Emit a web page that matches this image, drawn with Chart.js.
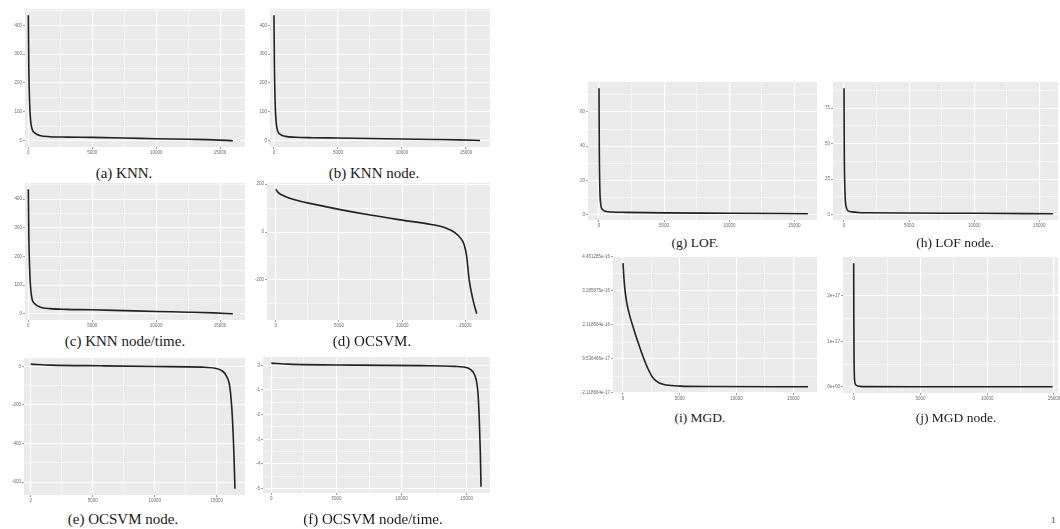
<!DOCTYPE html>
<html>
<head>
<meta charset="utf-8">
<script src="https://cdn.jsdelivr.net/npm/chart.js@4.4.1/dist/chart.umd.min.js"></script>
<style>
  body { margin: 0; background: #fff; width: 1060px; height: 529px; position: relative; overflow: hidden; }
  canvas { position: absolute; }
  .cap { position: absolute; font-family: "Liberation Serif", serif; line-height: 1; white-space: nowrap;
         transform: translate(-50%, -50%); color: #1a1a1a; }
  .pg { position: absolute; font-family: "Liberation Serif", serif; font-size: 9px; color: #333; }
</style>
</head>
<body>
<script>
// shared x axis ticks (row index)
const xTicks = [0, 5000, 10000, 15000];
const xLabels = ["0", "5000", "10000", "15000"];

// (a) KNN
const knnX = [0, 40, 100, 180, 300, 500, 900, 1700, 3000, 5000, 7500, 10000, 12500, 14500, 16000];
const knnY = [435, 250, 130, 70, 40, 27, 18, 14, 12.5, 11.5, 9.5, 7, 5, 3, 0];
// (b) KNN node
const knnNodeX = [0, 40, 100, 180, 300, 500, 900, 1700, 3000, 5000, 7500, 10000, 12500, 14500, 16100];
const knnNodeY = [435, 240, 120, 60, 33, 22, 15, 12, 10.5, 9.4, 7.8, 6, 4.5, 3, 1];
// (c) KNN node/time
const knnTimeX = [0, 40, 100, 180, 300, 500, 900, 1700, 3000, 5000, 7500, 10000, 12500, 14500, 16000];
const knnTimeY = [435, 270, 160, 90, 50, 35, 24, 18, 15.5, 14, 11, 8, 5.5, 3, 0];
const knnTicks = [0, 100, 200, 300, 400];
const knnLabels = ["0", "100", "200", "300", "400"];

// (d) OCSVM
const ocsvmX = [0, 200, 700, 1500, 2500, 5000, 7600, 10000, 12300, 13400, 14200, 14600, 14900, 15100, 15300, 15600, 15900];
const ocsvmY = [179, 165, 150, 135, 122, 95, 70, 50, 32, 18, -3, -24, -52, -100, -198, -282, -341];
const ocsvmTicks = [-200, 0, 200];
const ocsvmLabels = ["-200", "0", "200"];

// (e) OCSVM node
const ocsvmNodeX = [0, 1620, 5670, 10000, 13800, 14850, 15400, 15800, 16070, 16250, 16390, 16470];
const ocsvmNodeY = [12, 7, 3.5, 0, -3.5, -9, -21, -52, -113, -252, -461, -635];
const ocsvmNodeTicks = [-600, -400, -200, 0];
const ocsvmNodeLabels = ["-600", "-400", "-200", "0"];

// (f) OCSVM node/time
const ocsvmTimeX = [0, 1280, 6400, 11520, 14080, 15100, 15490, 15740, 15870, 15970, 16050, 16100];
const ocsvmTimeY = [0.09, 0.05, 0.01, -0.01, -0.04, -0.11, -0.27, -0.61, -1.15, -2.23, -3.58, -4.93];
const ocsvmTimeTicks = [-5, -4, -3, -2, -1, 0];
const ocsvmTimeLabels = ["-5", "-4", "-3", "-2", "-1", "0"];

// (g) LOF
const lofX = [0, 20, 60, 120, 180, 300, 560, 1000, 2100, 5000, 10000, 16050];
const lofY = [73.8, 40, 16, 7, 4.2, 2.8, 1.9, 1.6, 1.4, 1.1, 0.9, 0.6];
const lofTicks = [0, 20, 40, 60];
const lofLabels = ["0", "20", "40", "60"];

// (h) LOF node
const lofNodeX = [0, 20, 60, 100, 150, 300, 600, 1080, 2000, 4700, 10000, 16050];
const lofNodeY = [89, 45, 20, 10, 6, 2.8, 2.0, 1.6, 1.4, 1.2, 1.0, 0.7];
const lofNodeTicks = [0, 25, 50, 75];
const lofNodeLabels = ["0", "25", "50", "75"];

// (i) MGD
const mgdX = [0, 60, 150, 290, 550, 880, 1300, 1760, 2200, 2650, 3200, 3820, 5000, 8000, 16300];
const mgdY = [4.24e-16, 3.85e-16, 3.4e-16, 2.97e-16, 2.5e-16, 2.06e-16, 1.55e-16, 1.04e-16, 6.2e-17, 3.0e-17, 1.3e-17, 6e-18, 2.5e-18, 1e-18, 0];
const mgdTicks = [-2.118664e-17, 9.536466e-17, 2.118664e-16, 3.285875e-16, 4.451285e-16];
const mgdLabels = ["-2.118664e-17", "9.536466e-17", "2.118664e-16", "3.285875e-16", "4.451285e-16"];

// (j) MGD node
const mgdNodeX = [0, 10, 25, 50, 100, 200, 500, 1000, 5000, 14900];
const mgdNodeY = [2.72e17, 1.6e17, 7e16, 2.5e16, 8e15, 3e15, 1e15, 5e14, 2e14, 0];
const mgdNodeTicks = [0, 1e17, 2e17];
const mgdNodeLabels = ["0e+00", "1e+17", "2e+17"];

// layout: gray panel box [left, top, right, bottom], axis ranges, y label room, caption
const panels = [
  { x: knnX, y: knnY, yt: knnTicks, yl: knnLabels, box: [25, 9, 245, 147], xr: [-260, 16950], yr: [-21.75, 456.75], yw: 22,
    cap: "(a) KNN.", cx: 124, cy: 172.5, fs: 15 },
  { x: knnNodeX, y: knnNodeY, yt: knnTicks, yl: knnLabels, box: [270, 9, 490, 147], xr: [-310, 16880], yr: [-21.75, 456.75], yw: 22,
    cap: "(b) KNN node.", cx: 374, cy: 172.5, fs: 15 },
  { x: knnTimeX, y: knnTimeY, yt: knnTicks, yl: knnLabels, box: [25, 183, 245, 320], xr: [-260, 16950], yr: [-21.75, 456.75], yw: 22,
    cap: "(c) KNN node/time.", cx: 125, cy: 341, fs: 15 },
  { x: ocsvmX, y: ocsvmY, yt: ocsvmTicks, yl: ocsvmLabels, box: [267, 183, 490, 320], xr: [-690, 16950], yr: [-367, 205], yw: 22,
    cap: "(d) OCSVM.", cx: 372, cy: 341, fs: 15 },
  { x: ocsvmNodeX, y: ocsvmNodeY, yt: ocsvmNodeTicks, yl: ocsvmNodeLabels, box: [24, 358, 245, 495], xr: [-540, 17280], yr: [-667, 44], yw: 22,
    cap: "(e) OCSVM node.", cx: 123, cy: 519, fs: 15 },
  { x: ocsvmTimeX, y: ocsvmTimeY, yt: ocsvmTimeTicks, yl: ocsvmTimeLabels, box: [263, 357, 490, 493], xr: [-640, 16790], yr: [-5.18, 0.34], yw: 22,
    cap: "(f) OCSVM node/time.", cx: 373, cy: 519, fs: 15 },
  { x: lofX, y: lofY, yt: lofTicks, yl: lofLabels, box: [588, 82, 817, 220], xr: [-846, 16750], yr: [-3.06, 77.5], yw: 22,
    cap: "(g) LOF.", cx: 695, cy: 243, fs: 13.5 },
  { x: lofNodeX, y: lofNodeY, yt: lofNodeTicks, yl: lofNodeLabels, box: [833, 82, 1058, 220], xr: [-846, 16440], yr: [-3.7, 93.4], yw: 22,
    cap: "(h) LOF node.", cx: 955, cy: 243, fs: 13.5 },
  { x: mgdX, y: mgdY, yt: mgdTicks, yl: mgdLabels, box: [613, 257, 817, 393], xr: [-882, 17090], yr: [-2.118664e-17, 4.451285e-16], yw: 36,
    cap: "(i) MGD.", cx: 700, cy: 417.5, fs: 13.5 },
  { x: mgdNodeX, y: mgdNodeY, yt: mgdNodeTicks, yl: mgdNodeLabels, box: [843, 257, 1058, 393], xr: [-800, 15300], yr: [-1.36e16, 2.856e17], yw: 22,
    cap: "(j) MGD node.", cx: 956, cy: 417.5, fs: 13.5 }
];

const PAD = 3, XH = 9;

const panelBg = {
  id: "panelBg",
  beforeDraw(chart) {
    const a = chart.chartArea, c = chart.ctx;
    c.save();
    c.fillStyle = "#ebebeb";
    c.fillRect(a.left, a.top, a.right - a.left, a.bottom - a.top);
    c.restore();
  }
};

// major breaks plus ggplot-style minor breaks halfway between
function allTicks(major, min, max) {
  const step = major[1] - major[0];
  const ext = [major[0] - step, ...major, major[major.length - 1] + step];
  const out = major.slice();
  for (let i = 0; i < ext.length - 1; i++) out.push((ext[i] + ext[i + 1]) / 2);
  return out.filter(v => v >= min && v <= max).sort((a, b) => a - b);
}

function axis(major, labels, min, max, size, isX) {
  const ticks = allTicks(major, min, max);
  const tol = Math.abs(major[1] - major[0]) * 1e-4;
  const idx = v => major.findIndex(m => Math.abs(m - v) < tol);
  return {
    type: "linear", min, max,
    afterBuildTicks: s => { s.ticks = ticks.map(v => ({ value: v })); },
    afterFit: s => {
      if (isX) s.height = size; else s.width = size;
      s.paddingTop = s.paddingBottom = s.paddingLeft = s.paddingRight = 0;
    },
    border: { display: false },
    grid: {
      color: "#ffffff",
      lineWidth: c => idx(c.tick.value) >= 0 ? 1.1 : 0.55,
      tickColor: c => idx(c.tick.value) >= 0 ? "#555555" : "rgba(0,0,0,0)",
      tickLength: 2, tickWidth: 0.6
    },
    ticks: {
      autoSkip: false, maxRotation: 0, minRotation: 0, padding: 1,
      color: "#6a6a6a", font: { family: "Liberation Sans", size: 4.5 },
      callback: v => { const k = idx(v); return k < 0 ? "" : labels[k]; }
    }
  };
}

panels.forEach(p => {
  const [L, T, R, B] = p.box;
  const cv = document.createElement("canvas");
  const w = p.yw + (R - L) + PAD, h = PAD + (B - T) + XH;
  cv.width = w; cv.height = h;
  cv.style.left = (L - p.yw) + "px";
  cv.style.top = (T - PAD) + "px";
  cv.style.width = w + "px"; cv.style.height = h + "px";
  document.body.appendChild(cv);

  new Chart(cv, {
    type: "line",
    data: {
      datasets: [{
        data: p.x.map((x, i) => ({ x, y: p.y[i] })),
        borderColor: "#222222", borderWidth: 1.6, pointRadius: 0,
        cubicInterpolationMode: "monotone", fill: false
      }]
    },
    options: {
      responsive: false, animation: false, devicePixelRatio: 1, events: [],
      layout: { padding: { top: PAD, right: PAD, left: 0, bottom: 0 } },
      plugins: { legend: { display: false }, tooltip: { enabled: false } },
      scales: {
        x: axis(xTicks, xLabels, p.xr[0], p.xr[1], XH, true),
        y: axis(p.yt, p.yl, p.yr[0], p.yr[1], p.yw, false)
      }
    },
    plugins: [panelBg]
  });

  const cap = document.createElement("div");
  cap.className = "cap";
  cap.textContent = p.cap;
  cap.style.left = p.cx + "px";
  cap.style.top = p.cy + "px";
  cap.style.fontSize = p.fs + "px";
  document.body.appendChild(cap);
});

const pg = document.createElement("div");
pg.className = "pg";
pg.textContent = "1";
pg.style.left = "1051px";
pg.style.top = "515px";
document.body.appendChild(pg);
</script>
</body>
</html>
